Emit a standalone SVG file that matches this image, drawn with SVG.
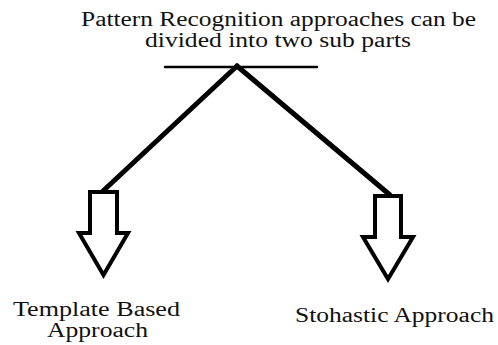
<svg xmlns="http://www.w3.org/2000/svg" width="498" height="345" viewBox="0 0 498 345">
<style>
.t{font-family:'Liberation Serif','DejaVu Serif','Times New Roman',serif;font-size:20px;fill:#111;}
.arrow{fill:#fff;stroke:#000;stroke-width:4;stroke-linejoin:miter;}
.conn{stroke:#000;fill:none;stroke-linecap:round;}
</style>
<rect width="498" height="345" fill="#fff"/>
<g id="title">
<text class="t" font-family="Liberation Serif, serif" x="81" y="26" textLength="395" lengthAdjust="spacingAndGlyphs">Pattern Recognition approaches can be</text>
<text class="t" font-family="Liberation Serif, serif" x="145" y="47" textLength="266" lengthAdjust="spacingAndGlyphs">divided into two sub parts</text>
</g>
<g id="connectors">
<line class="conn" x1="165" y1="67" x2="317" y2="67" stroke-width="2.5" stroke-linecap="butt"/>
<line class="conn" x1="237" y1="66" x2="103" y2="191" stroke-width="5"/>
<line class="conn" x1="237" y1="66" x2="390" y2="195" stroke-width="5"/>
</g>
<g id="template">
<polygon class="arrow" points="90,192 117,192 117,233 128,233 103.5,275 79,233 90,233"/>
<text class="t" font-family="Liberation Serif, serif" x="13" y="316" textLength="167" lengthAdjust="spacingAndGlyphs">Template Based</text>
<text class="t" font-family="Liberation Serif, serif" x="47" y="337" textLength="101" lengthAdjust="spacingAndGlyphs">Approach</text>
</g>
<g id="stochastic">
<polygon class="arrow" points="375,196 401,196 401,237 413,237 388,279 363,237 375,237"/>
<text class="t" font-family="Liberation Serif, serif" x="295" y="322" textLength="199" lengthAdjust="spacingAndGlyphs">Stohastic Approach</text>
</g>
</svg>
